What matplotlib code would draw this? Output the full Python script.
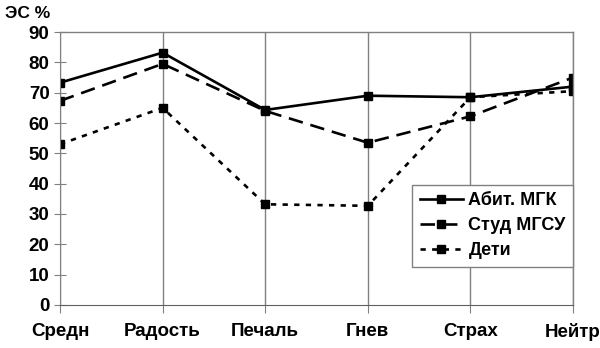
import matplotlib
matplotlib.use("Agg")
import matplotlib.pyplot as plt

categories = ["Средн", "Радость", "Печаль", "Гнев", "Страх", "Нейтр"]
abit_mgk = [73.3, 83.2, 64.3, 69.0, 68.5, 72.0]
stud_mgsu = [67.3, 79.5, 64.0, 53.5, 62.2, 75.0]
deti = [53.0, 65.0, 33.2, 32.7, 68.5, 70.5]
y_ticks = list(range(0, 91, 10))

plt.rcParams["font.family"] = ["Liberation Sans", "DejaVu Sans"]
plt.rcParams["font.weight"] = "bold"

fig = plt.figure(figsize=(6.0, 3.48), dpi=100)
ax = fig.add_axes([0.1, 0.1236, 0.855, 0.7844])

x = list(range(len(categories)))
ms = 6
lw = 1.9
ax.plot(x, abit_mgk, color="black", lw=lw, ls="-", marker="s", ms=ms,
        label="Абит. МГК")
ax.plot(x, stud_mgsu, color="black", lw=lw, ls=(0, (5.5, 3)), marker="s", ms=ms,
        label="Студ МГСУ")
ax.plot(x, deti, color="black", lw=lw, ls=(0, (2, 2.4)), marker="s", ms=ms,
        label="Дети")

ax.set_xlim(0, len(categories) - 1)
ax.set_ylim(0, 90)
ax.set_yticks(y_ticks)
ax.set_xticks(x)
ax.set_xticklabels(categories, fontsize=13.5, fontweight="bold")
ax.set_yticklabels([str(v) for v in y_ticks], fontsize=13.5, fontweight="bold")

ax.grid(axis="x", color="#808080", lw=1)
ax.set_axisbelow(True)
for side in ["top", "right"]:
    ax.spines[side].set_color("#808080")
    ax.spines[side].set_linewidth(1)
ax.spines["left"].set_color("#808080")
ax.spines["bottom"].set_color("#606060")
ax.tick_params(axis="y", direction="inout", length=9, color="#808080", pad=3)
ax.tick_params(axis="x", direction="out", length=6, color="#808080", pad=7)

fig.text(0.008, 0.962, "ЭС %", fontsize=12.5, fontweight="bold", ha="left", va="center")

leg = ax.legend(loc="upper right", bbox_to_anchor=(1.0, 0.44), frameon=True,
                fancybox=False, edgecolor="#808080", framealpha=1,
                prop={"size": 13, "weight": "bold"}, handlelength=2.4,
                borderpad=0.4, labelspacing=0.45, handletextpad=0.3,
                borderaxespad=0)
leg.get_frame().set_linewidth(1)

fig.savefig("out.png", dpi=100)
